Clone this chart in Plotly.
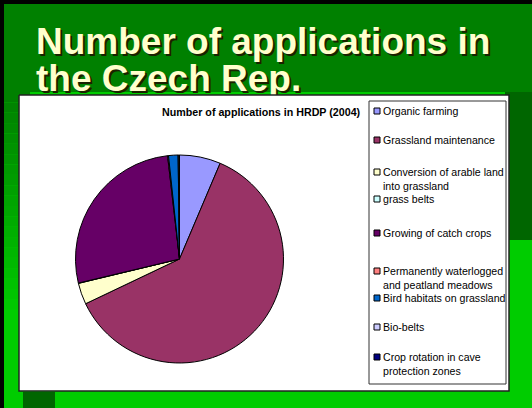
import plotly.graph_objects as go

# ---------------- data ----------------
labels = [
    "Organic farming",
    "Grassland maintenance",
    "Conversion of arable land<br>into grassland",
    "grass belts",
    "Growing of catch crops",
    "Permanently waterlogged<br>and peatland meadows",
    "Bird habitats on grassland",
    "Bio-belts",
    "Crop rotation in cave<br>protection zones",
]
applications = [1450, 13960, 750, 12, 6100, 32, 335, 30, 18]
slice_colors = ["#9999FF", "#993366", "#FFFFCC", "#CCFFFF", "#660066",
                "#FF8080", "#0066CC", "#CCCCFF", "#000080"]
slide_title_lines = ["Number of applications in", "the Czech Rep."]
chart_title = "Number of applications in HRDP (2004)"

# ---------------- layout helpers ----------------
W, H = 532, 408


def px(x):
    return x / W


def py(y):
    return 1 - y / H


fig = go.Figure()

# slide title (as text trace so the white chart box can cover descenders)
fig.add_trace(go.Scatter(
    x=[36, 36], y=[45, 82], mode="text", text=slide_title_lines,
    textposition="middle right",
    textfont=dict(family="Liberation Sans", size=37, color="#FFFFCC",
                  weight="bold", shadow="2px 2px 0px #1a2200"),
    hoverinfo="skip", showlegend=False))

# white chart area
fig.add_trace(go.Scatter(
    x=[19, 509, 509, 19, 19], y=[95, 95, 391, 391, 95], mode="lines",
    fill="toself", fillcolor="white", line=dict(color="#222222", width=1.5),
    hoverinfo="skip", showlegend=False))

# pie
cx, cy, r = 179.5, 259, 104
fig.add_trace(go.Pie(
    labels=labels, values=applications, sort=False, direction="clockwise",
    rotation=0, textinfo="none", showlegend=False,
    marker=dict(colors=slice_colors, line=dict(color="#000000", width=1)),
    domain=dict(x=[px(cx - r), px(cx + r)], y=[py(cy + r), py(cy - r)]),
))

shapes = []
# background pieces
shapes.append(dict(type="rect", xref="paper", yref="paper", x0=0, x1=1, y0=py(92), y1=1,
                   fillcolor="#008000", line_width=0, layer="below"))
shapes.append(dict(type="rect", xref="paper", yref="paper", x0=px(505), x1=1, y0=py(240), y1=py(92),
                   fillcolor="#006600", line_width=0, layer="below"))
# left gradient strip
steps = 22
y_start, y_end = 92, 320
for i in range(steps):
    t = i / (steps - 1)
    g = int(128 + (204 - 128) * t)
    ya = y_start + (y_end - y_start) * i / steps
    yb = y_start + (y_end - y_start) * (i + 1) / steps
    shapes.append(dict(type="rect", xref="paper", yref="paper", x0=0, x1=px(30),
                       y0=py(yb), y1=py(ya), fillcolor=f"rgb(0,{g},0)",
                       line_width=0, layer="below"))
shapes.append(dict(type="rect", xref="paper", yref="paper", x0=px(23), x1=px(55), y0=0, y1=py(392),
                   fillcolor="#006600", line_width=0, layer="below"))
# black frame edges
shapes.append(dict(type="rect", xref="paper", yref="paper", x0=0, x1=px(4), y0=0, y1=1,
                   fillcolor="#000000", line_width=0, layer="below"))
shapes.append(dict(type="rect", xref="paper", yref="paper", x0=0, x1=1, y0=py(4), y1=1,
                   fillcolor="#000000", line_width=0, layer="below"))

# legend box
shapes.append(dict(type="rect", xref="paper", yref="paper", x0=px(369), x1=px(506),
                   y0=py(384), y1=py(101), fillcolor="white",
                   line=dict(color="#333333", width=1), layer="above"))

annotations = [dict(text=f"<b>{chart_title}</b>", x=px(363), y=py(112), xref="paper", yref="paper",
                    xanchor="right", yanchor="middle", showarrow=False,
                    font=dict(family="Liberation Sans", size=10.7, color="#000000"))]

legend_rows = [[111], [140], [172, 185], [199], [233], [271, 284], [298], [327], [357, 371]]
for lab, col, rows in zip(labels, slice_colors, legend_rows):
    y0 = rows[0]
    shapes.append(dict(type="rect", xref="paper", yref="paper", x0=px(374), x1=px(380),
                       y0=py(y0 + 3), y1=py(y0 - 3), fillcolor=col,
                       line=dict(color="#000000", width=1), layer="above"))
    yc = sum(rows) / len(rows)
    annotations.append(dict(text=lab, x=px(381), y=py(yc), xref="paper", yref="paper",
                            xanchor="left", yanchor="middle", align="left", showarrow=False,
                            font=dict(family="Liberation Sans", size=10.6, color="#000000")))

fig.update_layout(
    width=W, height=H, margin=dict(l=0, r=0, t=0, b=0),
    paper_bgcolor="#00CC00", plot_bgcolor="rgba(0,0,0,0)",
    xaxis=dict(range=[0, W], visible=False, fixedrange=True, domain=[0, 1]),
    yaxis=dict(range=[H, 0], visible=False, fixedrange=True, domain=[0, 1]),
    shapes=shapes, annotations=annotations, showlegend=False,
)

fig.write_html("out.html", config={"displayModeBar": False},
               post_script="document.body.style.margin='0';")
